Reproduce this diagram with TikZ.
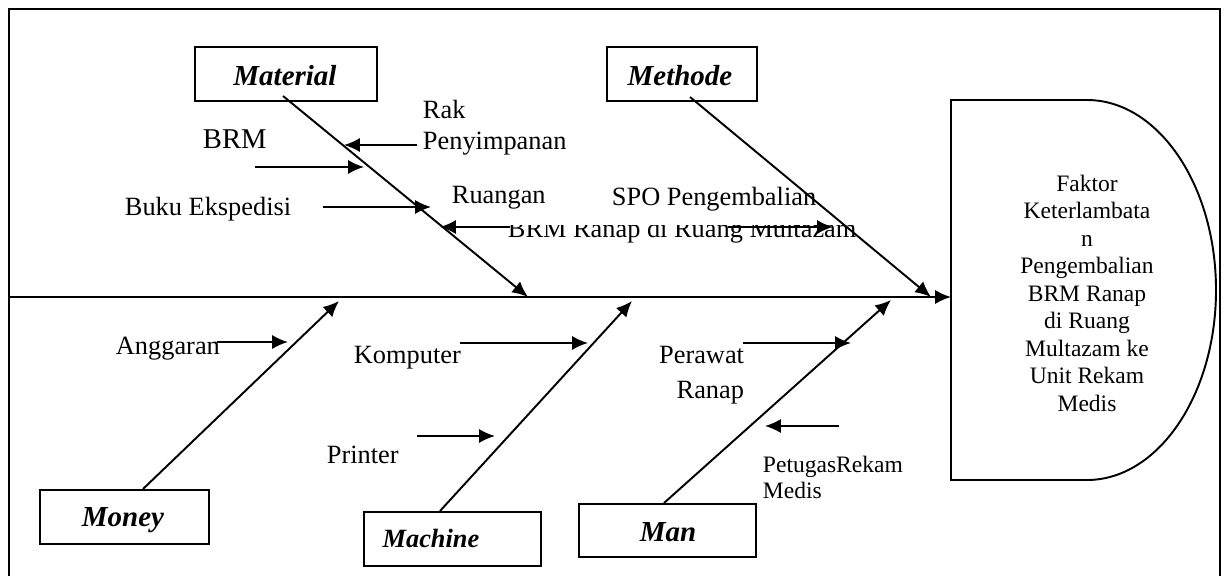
\documentclass[tikz,border=0pt]{standalone}
\usepackage{fontspec}
\setmainfont{Liberation Serif}
\usetikzlibrary{arrows.meta,positioning}

\begin{document}
\begin{tikzpicture}[
    x=0.02cm, y=-0.02cm,
    line width=1.1pt,
    >={Latex[length=9pt,width=8pt]},
    catbox/.style={rectangle, draw, line width=1.1pt, minimum height=1.08cm, inner sep=0pt},
    cat/.style={font=\fontsize{16.5}{20}\selectfont\bfseries\itshape, anchor=base, inner sep=0pt},
    lbl/.style={font=\fontsize{15}{18}\selectfont, anchor=base west, inner sep=0pt},
    small/.style={font=\fontsize{13.4}{15.6}\selectfont, anchor=base west, inner sep=0pt}
]
    \useasboundingbox (0,0) rectangle (1230,575);
    \draw (9,580) -- (9,9) -- (1220,9) -- (1220,580);

    \node[catbox, minimum width=3.64cm] (material) at (286,74) {};
    \node[catbox, minimum width=3.0cm] (methode) at (682,74) {};
    \node[catbox, minimum width=3.38cm] (money) at (124.5,517) {};
    \node[catbox, minimum width=3.54cm] (machine) at (452.5,539) {};
    \node[catbox, minimum width=3.54cm, minimum height=1.06cm] (man) at (667.5,530.5) {};
    \node[cat] (materialtxt) at (285,85) {Material};
    \node[cat] (methodetxt) at (680,85) {Methode};
    \node[cat] (moneytxt) at (123,526) {Money};
    \node[cat, font=\fontsize{15}{18}\selectfont\bfseries\itshape] (machinetxt) at (431,547) {Machine};
    \node[cat] (mantxt) at (668,541) {Man};

    \draw (951,100) -- (1087,100) .. controls (1158,100) and (1216,185) .. (1216,290)
        .. controls (1216,395) and (1158,480) .. (1087,480) -- (951,480) -- cycle;
    \node[font=\fontsize{13.4}{15.65}\selectfont, align=center, inner sep=0pt] (head) at (1087,293)
        {Faktor\\Keterlambata\\n\\Pengembalian\\BRM Ranap\\di Ruang\\Multazam ke\\Unit Rekam\\Medis};

    \node[lbl] (rak) at (422,118) {Rak};
    \node[lbl] (penyimpanan) at (422,149) {Penyimpanan};
    \node[lbl, font=\fontsize{16.3}{19}\selectfont] (brm) at (202,148) {BRM};
    \node[lbl] (buku) at (124,215) {Buku Ekspedisi};
    \node[lbl] (ruangan) at (451,203) {Ruangan};
    \node[lbl] (spo) at (611,205) {SPO Pengembalian};
    \node[lbl] (brmranap) at (507,237) {BRM Ranap di Ruang Multazam};
    \fill[white] (505,211) rectangle (862,224.5);

    \node[lbl] (anggaran) at (115,354) {Anggaran};
    \node[lbl] (komputer) at (353,363) {Komputer};
    \node[lbl] (printer) at (326,463) {Printer};
    \node[lbl, anchor=base east] (perawat) at (745,363) {Perawat};
    \node[lbl, anchor=base east] (ranap) at (745,398) {Ranap};
    \node[small] (petugas) at (762,472) {PetugasRekam};
    \node[small] (medis) at (762,498) {Medis};

    \coordinate (spine0) at (9,297);
    \coordinate (matstart) at (283,96);
    \coordinate (matend) at (528,297);
    \coordinate (metstart) at (690,97);
    \coordinate (metend) at (931,297);
    \coordinate (monstart) at (143,489);
    \coordinate (monend) at (339,301);
    \coordinate (macstart) at (440,511);
    \coordinate (macend) at (632,301);
    \coordinate (manstart) at (664,503);
    \coordinate (manend) at (891,300);

    \draw[->] (spine0) -- (951,297);
    \draw[->] (matstart) -- (matend);
    \draw[->] (metstart) -- (metend);
    \draw[->] (monstart) -- (monend);
    \draw[->] (macstart) -- (macend);
    \draw[->] (manstart) -- (manend);

    \draw[->] (417,145) -- (344,145);
    \draw[->] (255,167) -- (364,167);
    \draw[->] (323,207) -- (431,207);
    \draw[->] (510,227) -- (440,227);
    \draw[->] (728,227) -- (833,227);
    \draw[->] (217,342) -- (288,342);
    \draw[->] (460,343) -- (588,343);
    \draw[->] (417,436) -- (495,436);
    \draw[->] (743,343) -- (851,343);
    \draw[->] (839,426) -- (765,426);
\end{tikzpicture}
\end{document}
